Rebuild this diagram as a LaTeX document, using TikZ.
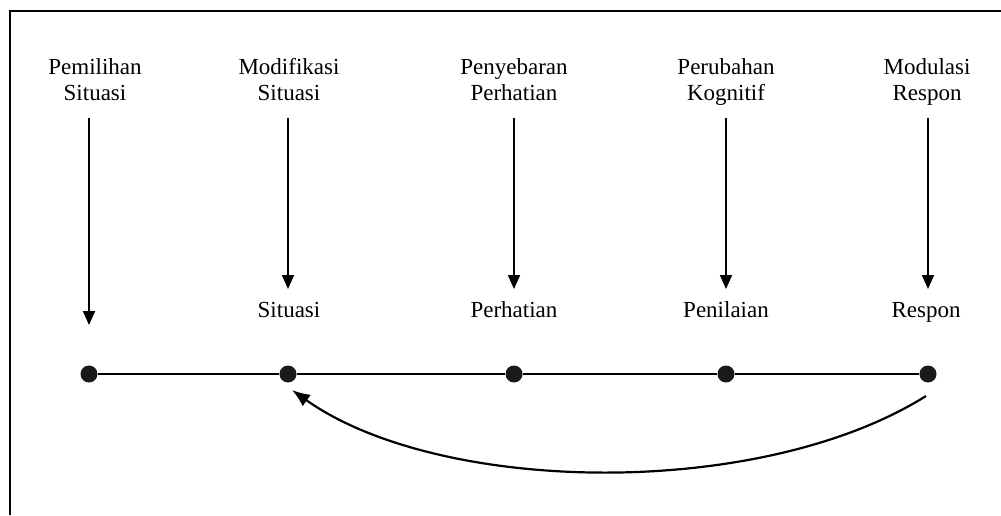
\documentclass[tikz,border=0pt]{standalone}
\usepackage{fontspec}
\setmainfont{Liberation Serif}
\usetikzlibrary{arrows.meta}
\begin{document}
\begin{tikzpicture}[x=1pt,y=-1pt,
  lbl/.style={font=\fontsize{23}{26}\selectfont, align=center, inner sep=0pt},
  dot/.style={circle, fill=black!90, minimum size=17pt, inner sep=0pt},
  down/.style={line width=1.8pt, -{Triangle[width=12pt,length=14pt]}},
  back/.style={line width=2.2pt, -{Latex[width=14pt,length=18pt]}}]
\useasboundingbox (0,0) rectangle (1001,515);
\fill[white] (0,0) rectangle (1001,515);
% frame
\draw[line width=2pt] (10,515) -- (10,11) -- (1001,11);
% top labels (first baseline at y=74, second at y=100)
\node[lbl, anchor=north] (t1) at (95,55.8) {\strut Pemilihan\\\strut Situasi};
\node[lbl, anchor=north] (t2) at (289,55.8) {\strut Modifikasi\\\strut Situasi};
\node[lbl, anchor=north] (t3) at (514,55.8) {\strut Penyebaran\\\strut Perhatian};
\node[lbl, anchor=north] (t4) at (726,55.8) {\strut Perubahan\\\strut Kognitif};
\node[lbl, anchor=north] (t5) at (927,55.8) {\strut Modulasi\\\strut Respon};
% lower labels (baseline y=317)
\node[lbl, anchor=base] (s2) at (289,317) {Situasi};
\node[lbl, anchor=base] (s3) at (514,317) {Perhatian};
\node[lbl, anchor=base] (s4) at (726,317) {Penilaian};
\node[lbl, anchor=base] (s5) at (926,317) {Respon};
% dots
\node[dot] (d1) at (89,374) {};
\node[dot] (d2) at (288,374) {};
\node[dot] (d3) at (514,374) {};
\node[dot] (d4) at (726,374) {};
\node[dot] (d5) at (928,374) {};
\draw[line width=1.6pt] (d1) -- (d2) -- (d3) -- (d4) -- (d5);
% arrow anchors
\coordinate (a1) at (89,118);  \coordinate (b1) at (89,325);
\coordinate (a2) at (288,118); \coordinate (b2) at (288,289);
\coordinate (a3) at (514,118); \coordinate (b3) at (514,289);
\coordinate (a4) at (726,118); \coordinate (b4) at (726,289);
\coordinate (a5) at (928,118); \coordinate (b5) at (928,289);
\foreach \i in {1,...,5} \draw[down] (a\i) -- (b\i);
% feedback
\coordinate (fs) at (926,396);
\coordinate (fe) at (292,390);
\draw[back] (fs) .. controls (760,500) and (440,495) .. (fe);
\end{tikzpicture}
\end{document}
